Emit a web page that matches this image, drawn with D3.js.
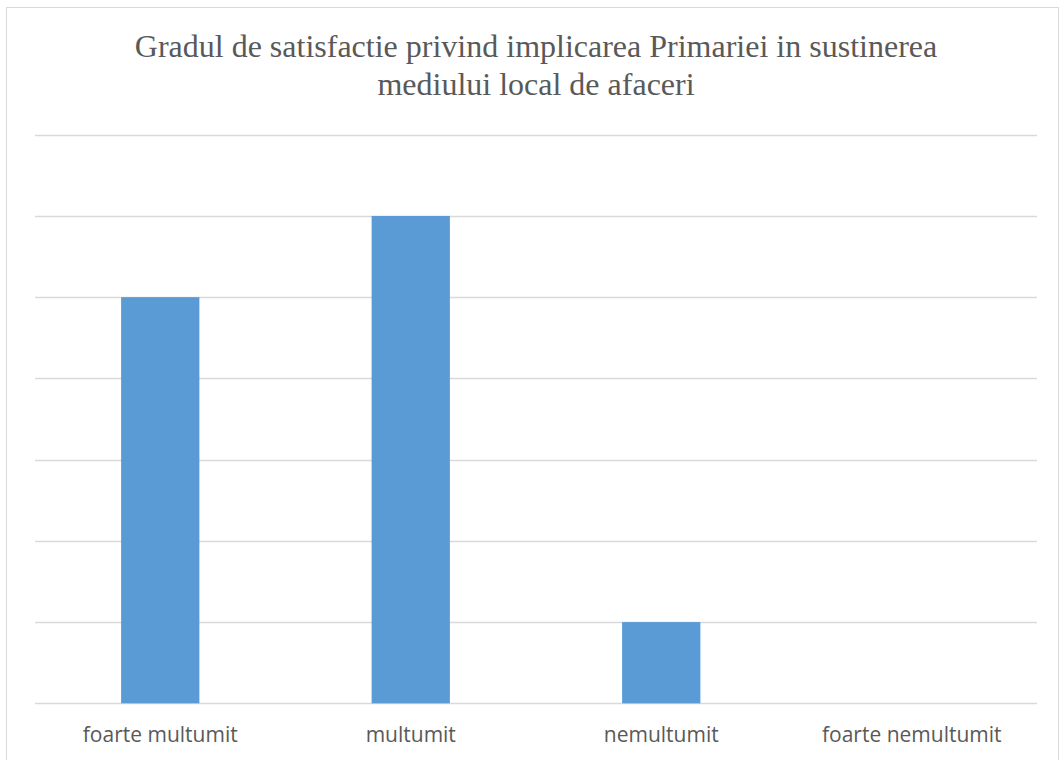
<!DOCTYPE html>
<html><head><meta charset="utf-8">
<script src="https://cdn.jsdelivr.net/npm/d3@7"></script>
<style>body{margin:0;background:#fff}</style>
</head><body><svg id="c" width="1060" height="760"></svg>
<script>
const categories = ["foarte multumit", "multumit", "nemultumit", "foarte nemultumit"];
const values = [5, 6, 1, 0];
const yTicks = [0, 1, 2, 3, 4, 5, 6, 7];
const titleLines = ["Gradul de satisfactie privind implicarea Primariei in sustinerea", "mediului local de afaceri"];

(function () {
const svg = d3.select("#c");
svg.append("rect").attr("x", 6.5).attr("y", 7.5).attr("width", 1052).attr("height", 760)
  .attr("fill", "#fff").attr("stroke", "#d9d9d9").attr("stroke-width", 1);

const pLeft = 35, pRight = 1037, pTop = 134.7, pBottom = 703.3;
const x = d3.scaleBand().domain(categories).range([pLeft, pRight]).padding(0);
const y = d3.scaleLinear().domain([0, 7]).range([pBottom, pTop]);

svg.append("g").selectAll("line").data(yTicks).join("line")
  .attr("x1", pLeft).attr("x2", pRight)
  .attr("y1", d => Math.round(y(d)) + 0.5).attr("y2", d => Math.round(y(d)) + 0.5)
  .attr("stroke", "#d9d9d9").attr("stroke-width", 1.5);

const bw = x.bandwidth() * 0.3125;
svg.append("g").selectAll("rect").data(values).join("rect")
  .attr("x", (d, i) => x(categories[i]) + (x.bandwidth() - bw) / 2)
  .attr("width", bw)
  .attr("y", d => y(d))
  .attr("height", d => y(0) - y(d))
  .attr("fill", "#5b9bd5");

svg.append("g").selectAll("text").data(categories).join("text")
  .attr("x", d => x(d) + x.bandwidth() / 2)
  .attr("y", 742)
  .attr("text-anchor", "middle")
  .attr("font-family", "'Open Sans', 'Noto Sans', sans-serif")
  .attr("font-size", 21)
  .attr("fill", "#595959")
  .text(d => d);

svg.append("g").selectAll("text").data(titleLines).join("text")
  .attr("x", (pLeft + pRight) / 2)
  .attr("y", (d, i) => 57 + i * 37.5)
  .attr("text-anchor", "middle")
  .attr("font-family", "Liberation Serif, serif")
  .attr("font-size", 32)
  .attr("fill", "#595959")
  .text(d => d);
})();
</script></body></html>
